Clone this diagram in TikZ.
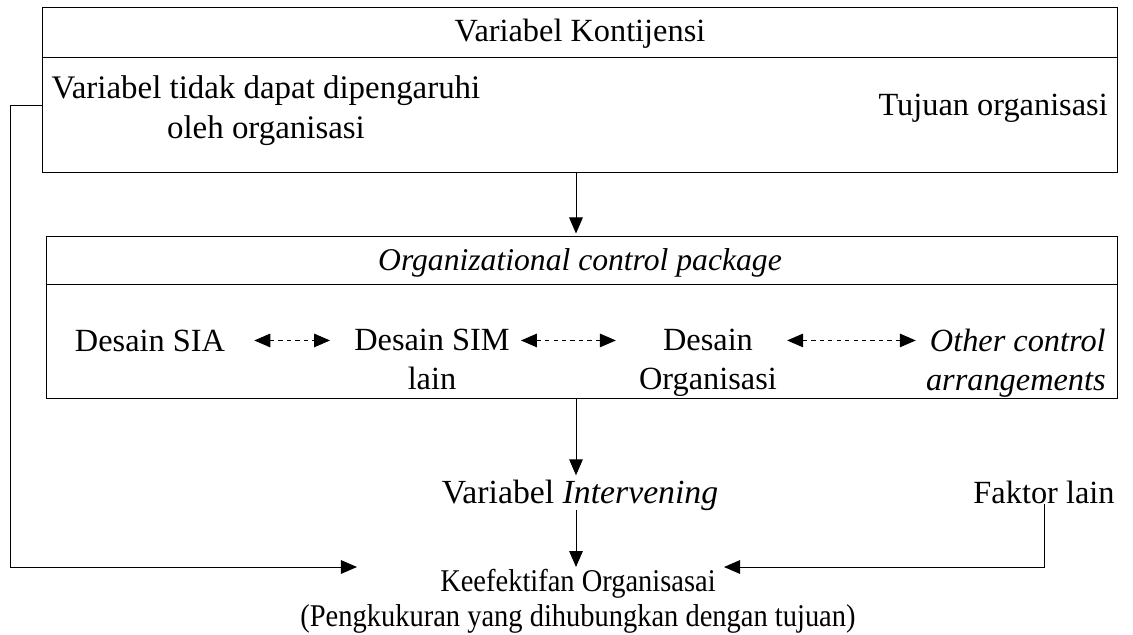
\documentclass[tikz,border=0pt]{standalone}
\usepackage{fontspec}
\setmainfont{Liberation Serif}
\newfontfamily\narrowserif[FakeStretch=0.9]{Liberation Serif}
\usetikzlibrary{arrows.meta,calc}
\begin{document}
\begin{tikzpicture}[x=0.025cm,y=-0.025cm,
  txt/.style={inner sep=0pt,font=\fontsize{23}{27.7}\selectfont,align=center},
  frame/.style={draw,line width=0.7pt,inner sep=0pt},
  tip/.tip={Triangle[length=0.4cm,width=0.34cm]},
  conn/.style={line width=0.7pt,-tip},
  biarr/.style={line width=0.7pt,dash pattern=on 3pt off 3pt,tip-tip}]
\useasboundingbox (0,0) rectangle (1133,634);
% frames
\node[frame,minimum width=26.85cm,minimum height=4.1cm] (top) at (580,90) {};
\draw[line width=0.7pt] (top.west |- 0,57) -- (top.east |- 0,57);
\node[frame,minimum width=26.75cm,minimum height=4.025cm] (pkg) at (582,317.5) {};
\draw[line width=0.7pt] (pkg.west |- 0,284) -- (pkg.east |- 0,284);
% texts
\node[txt,anchor=base] (kont) at (580,41) {Variabel Kontijensi};
\node[txt,anchor=north,font=\fontsize{23.4}{28.5}\selectfont] (unc) at (266,75) {Variabel tidak dapat dipengaruhi\\oleh organisasi};
\node[txt,anchor=base east] (tuj) at (1108,115) {Tujuan organisasi};
\node[txt,anchor=base,font=\fontsize{22.5}{26}\selectfont\itshape] (ocp) at (580,270) {Organizational control package};
\node[txt,anchor=base] (sia) at (150,351) {Desain SIA};
\node[txt,anchor=north] (sim) at (432,329) {Desain SIM\\lain};
\node[txt,anchor=north] (org) at (708,329) {Desain\\Organisasi};
\node[txt,anchor=north east,font=\fontsize{23}{27.7}\selectfont\itshape,align=right] (oca) at (1106,329) {Other control\\arrangements};
\node[txt,anchor=base,font=\fontsize{24}{28}\selectfont] (interv) at (580,503) {Variabel \textit{Intervening}};
\node[txt,anchor=north,font=\narrowserif\fontsize{22.5}{24.5}\selectfont] (keef) at (578,569) {Keefektifan Organisasai\\(Pengkukuran yang dihubungkan dengan tujuan)};
\node[txt,anchor=base] (faktor) at (1044,503) {Faktor lain};
% connectors
\draw[conn] (top.south -| 576,0) -- ($(pkg.north -| 576,0)+(0,-3)$);
\draw[conn] (pkg.south -| 576,0) -- ($(interv.north -| 576,0)+(0,-4)$);
\draw[conn] (interv.south -| 576,0) -- ($(keef.north -| 576,0)+(0,-2)$);
\draw[biarr] ($(sia.east)+(29,0)$) -- ($(sim.west |- sia.east)+(-24,0)$);
\draw[biarr] ($(sim.east |- sia.east)+(11,0)$) -- ($(org.west |- sia.east)+(-23,0)$);
\draw[biarr] ($(org.east |- sia.east)+(10,0)$) -- ($(oca.west |- sia.east)+(-10,0)$);
\coordinate (fbL) at (357,567);
\coordinate (fbR) at (724,567);
\draw[conn] (top.west |- 0,105) -- (10,105) |- (fbL);
\draw[conn] (faktor.south) |- (fbR);
\end{tikzpicture}
\end{document}
